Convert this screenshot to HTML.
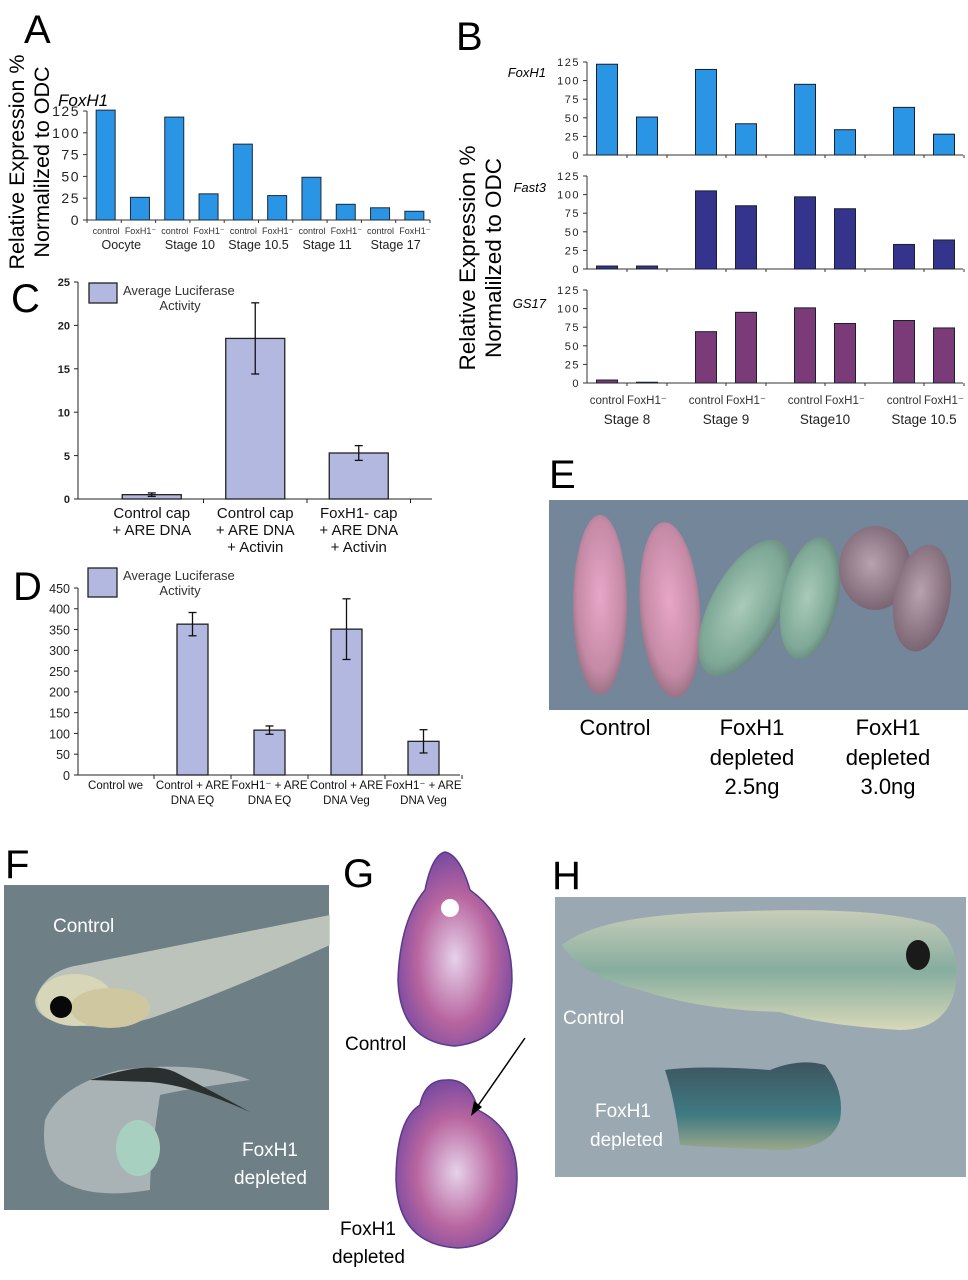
<!DOCTYPE html>
<html><head><meta charset="utf-8">
<style>
html,body{margin:0;padding:0;background:#fff;}
svg{display:block;font-family:"Liberation Sans",Arial,sans-serif;}
</style></head>
<body>
<svg id="fig" width="968" height="1280" viewBox="0 0 968 1280" xmlns="http://www.w3.org/2000/svg">
<defs>
<radialGradient id="pinkG" cx="50%" cy="45%" r="60%"><stop offset="0" stop-color="#e8a6c8"/><stop offset="0.7" stop-color="#c58aa6"/><stop offset="1" stop-color="#8a6a78"/></radialGradient>
<radialGradient id="greenG" cx="45%" cy="50%" r="60%"><stop offset="0" stop-color="#a9cbb8"/><stop offset="0.7" stop-color="#7fa897"/><stop offset="1" stop-color="#5e7a70"/></radialGradient>
<radialGradient id="mauveG" cx="45%" cy="45%" r="60%"><stop offset="0" stop-color="#b8a2b0"/><stop offset="1" stop-color="#76606e"/></radialGradient>
<radialGradient id="histG" cx="50%" cy="55%" r="55%"><stop offset="0" stop-color="#e6d2ea"/><stop offset="0.6" stop-color="#b8659f"/><stop offset="1" stop-color="#7a4aa0"/></radialGradient>
<linearGradient id="hTad" x1="0" y1="0" x2="0" y2="1"><stop offset="0" stop-color="#c8cdb8"/><stop offset="0.5" stop-color="#86ad9f"/><stop offset="1" stop-color="#d8d8b8"/></linearGradient>
<linearGradient id="hTad2" x1="0" y1="0" x2="0" y2="1"><stop offset="0" stop-color="#3e5560"/><stop offset="0.6" stop-color="#3f7a82"/><stop offset="1" stop-color="#9aa88a"/></linearGradient>
</defs>

<!-- Panel letters -->
<text x="24" y="43" font-size="40">A</text>
<text x="456" y="50" font-size="40">B</text>
<text x="11" y="312" font-size="40">C</text>
<text x="13" y="600" font-size="40">D</text>
<text x="549" y="488" font-size="40">E</text>
<text x="5" y="878" font-size="40">F</text>
<text x="343" y="887" font-size="40">G</text>
<text x="552" y="889" font-size="40">H</text>

<!-- Axis titles -->
<g font-size="21.5">
<text transform="translate(24,162) rotate(-90)" text-anchor="middle">Relative Expression %</text>
<text transform="translate(49,162) rotate(-90)" text-anchor="middle">Normalilzed to ODC</text>
</g>
<g font-size="22.5">
<text transform="translate(475,258) rotate(-90)" text-anchor="middle">Relative Expression %</text>
<text transform="translate(501,258) rotate(-90)" text-anchor="middle">Normalilzed to ODC</text>
</g>
<text x="58" y="106" font-size="17" font-style="italic">FoxH1</text>
<text x="546" y="77" font-size="13" font-style="italic" text-anchor="end">FoxH1</text>
<text x="546" y="192" font-size="13" font-style="italic" text-anchor="end">Fast3</text>
<text x="546" y="308" font-size="13" font-style="italic" text-anchor="end">GS17</text>

<g id="charts"></g>

<!-- Panel E photo -->
<g>
<rect x="549" y="500" width="419" height="210" fill="#74869a"/>
<ellipse cx="600" cy="605" rx="27" ry="90" fill="url(#pinkG)"/>
<ellipse cx="670" cy="610" rx="30" ry="88" transform="rotate(-4 670 610)" fill="url(#pinkG)"/>
<ellipse cx="745" cy="608" rx="35" ry="75" transform="rotate(28 745 608)" fill="url(#greenG)"/>
<ellipse cx="810" cy="598" rx="28" ry="62" transform="rotate(12 810 598)" fill="url(#greenG)"/>
<ellipse cx="875" cy="568" rx="36" ry="42" fill="url(#mauveG)"/>
<ellipse cx="922" cy="598" rx="28" ry="54" transform="rotate(10 922 598)" fill="url(#mauveG)"/>
</g>
<g font-size="22" text-anchor="middle">
<text x="615" y="735">Control</text>
<text x="752" y="735">FoxH1</text><text x="752" y="765">depleted</text><text x="752" y="794">2.5ng</text>
<text x="888" y="735">FoxH1</text><text x="888" y="765">depleted</text><text x="888" y="794">3.0ng</text>
</g>

<!-- Panel F photo -->
<g>
<rect x="4" y="885" width="325" height="325" fill="#6f7f86"/>
<path d="M35 1000 Q45 970 80 965 L330 915 L330 945 Q230 990 160 1015 Q120 1030 70 1025 Q35 1020 35 1000Z" fill="#c9cfc4" opacity="0.85"/>
<ellipse cx="75" cy="1000" rx="38" ry="26" fill="#d8d6b8"/>
<ellipse cx="110" cy="1008" rx="40" ry="20" fill="#cfc7a0"/>
<circle cx="61" cy="1007" r="11" fill="#080808"/>
<path d="M45 1120 Q60 1085 120 1070 Q200 1060 250 1080 Q180 1090 160 1095 Q150 1160 150 1190 Q90 1200 60 1180 Q40 1160 45 1120Z" fill="#b8c0c0" opacity="0.8"/>
<path d="M90 1080 Q150 1060 175 1072 Q210 1090 250 1112 Q190 1085 150 1082 Z" fill="#2a3030"/>
<ellipse cx="138" cy="1148" rx="22" ry="28" fill="#a8d0c0"/>
</g>
<g font-size="19" fill="#fff">
<text x="53" y="932">Control</text>
<text x="242" y="1156">FoxH1</text><text x="234" y="1184">depleted</text>
</g>

<!-- Panel G histology -->
<g>
<path d="M445 852 Q460 855 470 890 Q512 920 512 980 Q510 1040 455 1046 Q400 1042 398 980 Q400 920 425 890 Q432 855 445 852Z" fill="url(#histG)" stroke="#5a3a8a" stroke-width="1.5"/>
<circle cx="450" cy="908" r="9" fill="#fff"/>
<path d="M446 1080 Q470 1078 478 1110 Q518 1130 517 1180 Q515 1245 458 1248 Q398 1245 396 1180 Q396 1120 420 1105 Q425 1080 446 1080Z" fill="url(#histG)" stroke="#5a3a8a" stroke-width="1.5"/>
<line x1="525" y1="1038" x2="475" y2="1110" stroke="#000" stroke-width="1.5"/>
<path d="M471 1116 L474 1101 L482 1107 Z" fill="#000"/>
</g>
<g font-size="19">
<text x="345" y="1050">Control</text>
<text x="340" y="1235">FoxH1</text><text x="332" y="1263">depleted</text>
</g>

<!-- Panel H photo -->
<g>
<rect x="555" y="897" width="411" height="280" fill="#9aa8b1"/>
<path d="M562 945 Q600 915 720 912 Q880 905 935 925 Q962 945 955 990 Q945 1030 900 1030 Q820 1025 780 1012 Q700 1010 640 990 Q580 975 562 945Z" fill="url(#hTad)"/>
<ellipse cx="918" cy="955" rx="12" ry="15" fill="#1a1a1a"/>
<path d="M665 1070 Q700 1065 770 1070 Q800 1058 825 1065 Q845 1090 840 1120 Q830 1150 780 1150 Q720 1148 680 1145 Q675 1100 665 1070Z" fill="url(#hTad2)"/>
</g>
<g font-size="19" fill="#fff">
<text x="563" y="1024">Control</text>
<text x="595" y="1117">FoxH1</text><text x="590" y="1146">depleted</text>
</g>

<script>
// ---- Panel A data ----
const aStages = ["Oocyte","Stage 10","Stage 10.5","Stage 11","Stage 17"];
const aControl = [126,118,87,49,14];
const aFoxH1 = [26,30,28,18,10];
const aTicks = [0,25,50,75,100,125];
// ---- Panel B data ----
const bStages = ["Stage 8","Stage 9","Stage10","Stage 10.5"];
const bFoxH1Ctrl = [122,115,95,64];
const bFoxH1Dep = [51,42,34,28];
const bFast3Ctrl = [4,105,97,33];
const bFast3Dep = [4,85,81,39];
const bGS17Ctrl = [4,69,101,84];
const bGS17Dep = [1,95,80,74];
const bTicks = [0,25,50,75,100,125];
// ---- Panel C data ----
const cCats = [["Control cap","+ ARE DNA"],["Control cap","+ ARE DNA","+ Activin"],["FoxH1- cap","+ ARE DNA","+ Activin"]];
const cValues = [0.5,18.5,5.3];
const cErrors = [0.2,4.1,0.85];
const cTicks = [0,5,10,15,20,25];
// ---- Panel D data ----
const dCats = [["Control we"],["Control + ARE","DNA EQ"],["FoxH1\u207B + ARE","DNA EQ"],["Control + ARE","DNA Veg"],["FoxH1\u207B + ARE","DNA Veg"]];
const dValues = [0,363,108,351,81];
const dErrors = [0,28,10,73,28];
const dTicks = [0,50,100,150,200,250,300,350,400,450];

const NS = "http://www.w3.org/2000/svg";
const root = document.getElementById('charts');
function mk(tag, attrs, parent){const e=document.createElementNS(NS,tag);for(const k in attrs)e.setAttribute(k,attrs[k]);(parent||root).appendChild(e);return e;}
function txt(s,attrs,parent){const e=mk('text',attrs,parent);e.textContent=s;return e;}
function lin(d0,d1,r0,r1){return v=>r0+(v-d0)/(d1-d0)*(r1-r0);}

// Panel A
(function(){
  const g=mk('g',{});
  
  
  const y=lin(0,125,220,111), x0=87, x1=430, slot=(x1-x0)/10;
  mk('line',{x1:x0,y1:y(125),x2:x0,y2:220,stroke:'#333','stroke-width':1},g);
  mk('line',{x1:x0,y1:220,x2:x1,y2:220,stroke:'#333','stroke-width':1},g);
  aTicks.forEach(t=>{mk('line',{x1:x0-4,y1:y(t),x2:x0,y2:y(t),stroke:'#333'},g);
    const tl=txt(String(t),{x:x0-7,y:y(t)+5,'font-size':14,'text-anchor':'end','letter-spacing':'1.5',fill:'#222'},g);
    
    });
  for(let i=0;i<=10;i++) mk('line',{x1:x0+i*slot,y1:220,x2:x0+i*slot,y2:223,stroke:'#333'},g);
  aStages.forEach((s,i)=>{
    [aControl[i],aFoxH1[i]].forEach((v,j)=>{
      const cx=x0+(2*i+j+0.5)*slot+2;
      const r=mk('rect',{x:cx-10,y:y(v),width:19,height:220-y(v),fill:'#2b95e5',stroke:'#1a2a3a','stroke-width':1},g);
      
      
      txt(j===0?'control':'FoxH1\u207B',{x:cx,y:234,'font-size':9,'text-anchor':'middle',fill:'#333'},g);
    });
    const sl=txt(s,{x:x0+(2*i+1)*slot,y:249,'font-size':12.5,'text-anchor':'middle',fill:'#222'},g);
    
    
  });
})();

// Panel B
function drawB(ctrl,dep,base,color,name,showLabels){
  const g=mk('g',{});
  
  
  const y=lin(0,125,base,base-93), x0=587, x1=963;
  mk('line',{x1:x0,y1:y(125),x2:x0,y2:base,stroke:'#333'},g);
  mk('line',{x1:x0,y1:base,x2:x1,y2:base,stroke:'#333'},g);
  bTicks.forEach(t=>{mk('line',{x1:x0-4,y1:y(t),x2:x0,y2:y(t),stroke:'#333'},g);
    txt(String(t),{x:x0-7,y:y(t)+4,'font-size':11,'text-anchor':'end','letter-spacing':'1.5',fill:'#222'},g);});
  bStages.forEach((s,i)=>{
    [ctrl[i],dep[i]].forEach((v,j)=>{
      const cx=607+i*99+j*40;
      const r=mk('rect',{x:cx-10.5,y:y(v),width:21,height:base-y(v),fill:color,stroke:'#1a2030','stroke-width':1},g);
      
      
      mk('line',{x1:cx+20,y1:base,x2:cx+20,y2:base+3,stroke:'#333'},g);
      if(showLabels) txt(j===0?'control':'FoxH1\u207B',{x:cx,y:404,'font-size':11.5,'text-anchor':'middle',fill:'#333'},g);
    });
    if(showLabels){const sl=txt(s,{x:627+i*99,y:424,'font-size':13.5,'text-anchor':'middle',fill:'#222'},g);
      
      }
  });
}
drawB(bFoxH1Ctrl,bFoxH1Dep,155,'#2b95e5','chart-b-foxh1',false);
drawB(bFast3Ctrl,bFast3Dep,269,'#34348c','chart-b-fast3',false);
drawB(bGS17Ctrl,bGS17Dep,383,'#7b3b78','chart-b-gs17',true);

// Bar + error chart
function drawLuc(vals,errs,cats,ticks,cfg){
  const g=mk('g',{});
  
  
  const y=lin(0,ticks[ticks.length-1],cfg.base,cfg.top);
  mk('line',{x1:cfg.ax,y1:cfg.top,x2:cfg.ax,y2:cfg.base,stroke:'#222'},g);
  mk('line',{x1:cfg.ax,y1:cfg.base,x2:cfg.axEnd,y2:cfg.base,stroke:'#222'},g);
  ticks.forEach(t=>{mk('line',{x1:cfg.ax-4,y1:y(t),x2:cfg.ax,y2:y(t),stroke:'#222'},g);
    const tl=txt(String(t),{x:cfg.ax-8,y:y(t)+cfg.tf/2.6,'font-size':cfg.tf,'font-weight':cfg.bold?'bold':'normal','text-anchor':'end',fill:'#222'},g);
    
    });
  vals.forEach((v,i)=>{
    const cx=cfg.x0+(i+0.5)*cfg.slot;
    mk('line',{x1:cfg.x0+(i+1)*cfg.slot,y1:cfg.base,x2:cfg.x0+(i+1)*cfg.slot,y2:cfg.base+4,stroke:'#222'},g);
    if(v>0){
      const r=mk('rect',{x:cx-cfg.bw/2,y:y(v),width:cfg.bw,height:cfg.base-y(v),fill:'#b3b8e0',stroke:'#222','stroke-width':1.3},g);
      
      
      const e=errs[i];
      mk('line',{x1:cx,y1:y(v+e),x2:cx,y2:y(v-e),stroke:'#111','stroke-width':1.3},g);
      mk('line',{x1:cx-4,y1:y(v+e),x2:cx+4,y2:y(v+e),stroke:'#111','stroke-width':1.3},g);
      mk('line',{x1:cx-4,y1:y(v-e),x2:cx+4,y2:y(v-e),stroke:'#111','stroke-width':1.3},g);
    }
    cats[i].forEach((l,k)=>{const t=txt(l,{x:cx,y:cfg.ly+k*cfg.lh,'font-size':cfg.lf,'text-anchor':'middle',fill:'#111'},g);
      
      });
  });
  const lg=mk('g',{},g);
  
  
  mk('rect',{x:cfg.lx,y:cfg.lyy,width:cfg.lw,height:cfg.lhh,fill:'#b3b8e0',stroke:'#222','stroke-width':1.3},lg);
  txt('Average Luciferase',{x:cfg.lx+cfg.lw+6,y:cfg.lyy+12,'font-size':13,fill:'#333'},lg);
  txt('Activity',{x:cfg.lx+cfg.lw+63,y:cfg.lyy+27,'font-size':13,'text-anchor':'middle',fill:'#333'},lg);
}
drawLuc(cValues,cErrors,cCats,cTicks,{name:'chart-c',ax:78,axEnd:432,base:499,top:282,x0:100,slot:103.5,bw:59,tf:11,bold:true,ly:518,lh:17,lf:15,lx:89,lyy:283,lw:28,lhh:20});
drawLuc(dValues,dErrors,dCats,dTicks,{name:'chart-d',ax:78,axEnd:460,base:775,top:588,x0:77,slot:77,bw:31,tf:12.5,bold:false,ly:789,lh:15,lf:11.5,lx:88,lyy:568,lw:29,lhh:29});
</script>
</svg>
</body></html>
